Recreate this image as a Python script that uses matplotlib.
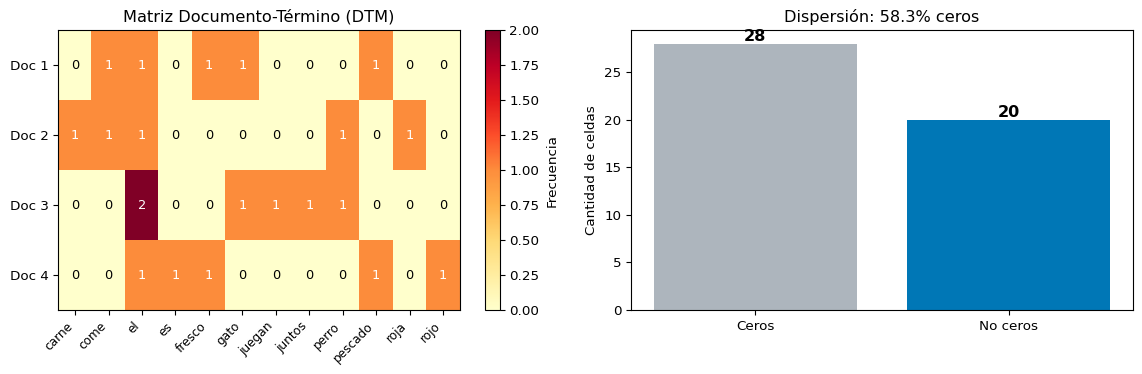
import numpy as np
import matplotlib
matplotlib.use("Agg")
import matplotlib.pyplot as plt

# vocabulario y documentos
terms = ["carne", "come", "el", "es", "fresco", "gato", "juegan", "juntos",
         "perro", "pescado", "roja", "rojo"]
docs = ["Doc 1", "Doc 2", "Doc 3", "Doc 4"]

doc1 = [0, 1, 1, 0, 1, 1, 0, 0, 0, 1, 0, 0]
doc2 = [1, 1, 1, 0, 0, 0, 0, 0, 1, 0, 1, 0]
doc3 = [0, 0, 2, 0, 0, 1, 1, 1, 1, 0, 0, 0]
doc4 = [0, 0, 1, 1, 1, 0, 0, 0, 0, 1, 0, 1]

bar_labels = ["Ceros", "No ceros"]
bar_colors = ["#adb5bd", "#0077b6"]

dtm = np.array([doc1, doc2, doc3, doc4])
n_zeros = int((dtm == 0).sum())
n_nonzero = int((dtm != 0).sum())
sparsity = n_zeros / dtm.size * 100

plt.rcParams["font.size"] = 9.7
plt.rcParams["axes.titlesize"] = 11.6

fig = plt.figure(figsize=(11.42, 3.74), dpi=100)
ax1 = fig.add_axes([0.0511, 0.171, 0.3515, 0.748])
cax = fig.add_axes([0.425, 0.171, 0.0126, 0.748])
ax2 = fig.add_axes([0.5525, 0.171, 0.4396, 0.748])

# heatmap
im = ax1.imshow(dtm, cmap="YlOrRd", aspect="auto", vmin=0, vmax=2)
ax1.set_xticks(range(len(terms)))
ax1.set_xticklabels(terms, rotation=45, ha="right", fontsize=8.7)
ax1.set_yticks(range(len(docs)))
ax1.set_yticklabels(docs)
ax1.set_title("Matriz Documento-Término (DTM)")
for i in range(dtm.shape[0]):
    for j in range(dtm.shape[1]):
        val = dtm[i, j]
        ax1.text(j, i, str(val), ha="center", va="center",
                 color="white" if val > 0 else "black", fontsize=9.3)
cb = fig.colorbar(im, cax=cax)
cb.set_label("Frecuencia")

# barras de dispersion
counts = [n_zeros, n_nonzero]
bars = ax2.bar(bar_labels, counts, color=bar_colors)
for b, c in zip(bars, counts):
    ax2.text(b.get_x() + b.get_width() / 2, b.get_height(), str(c),
             ha="center", va="bottom", fontsize=11.6, fontweight="bold")
ax2.set_ylabel("Cantidad de celdas")
ax2.set_title(f"Dispersión: {sparsity:.1f}% ceros")

fig.savefig("out.png", dpi=100)
